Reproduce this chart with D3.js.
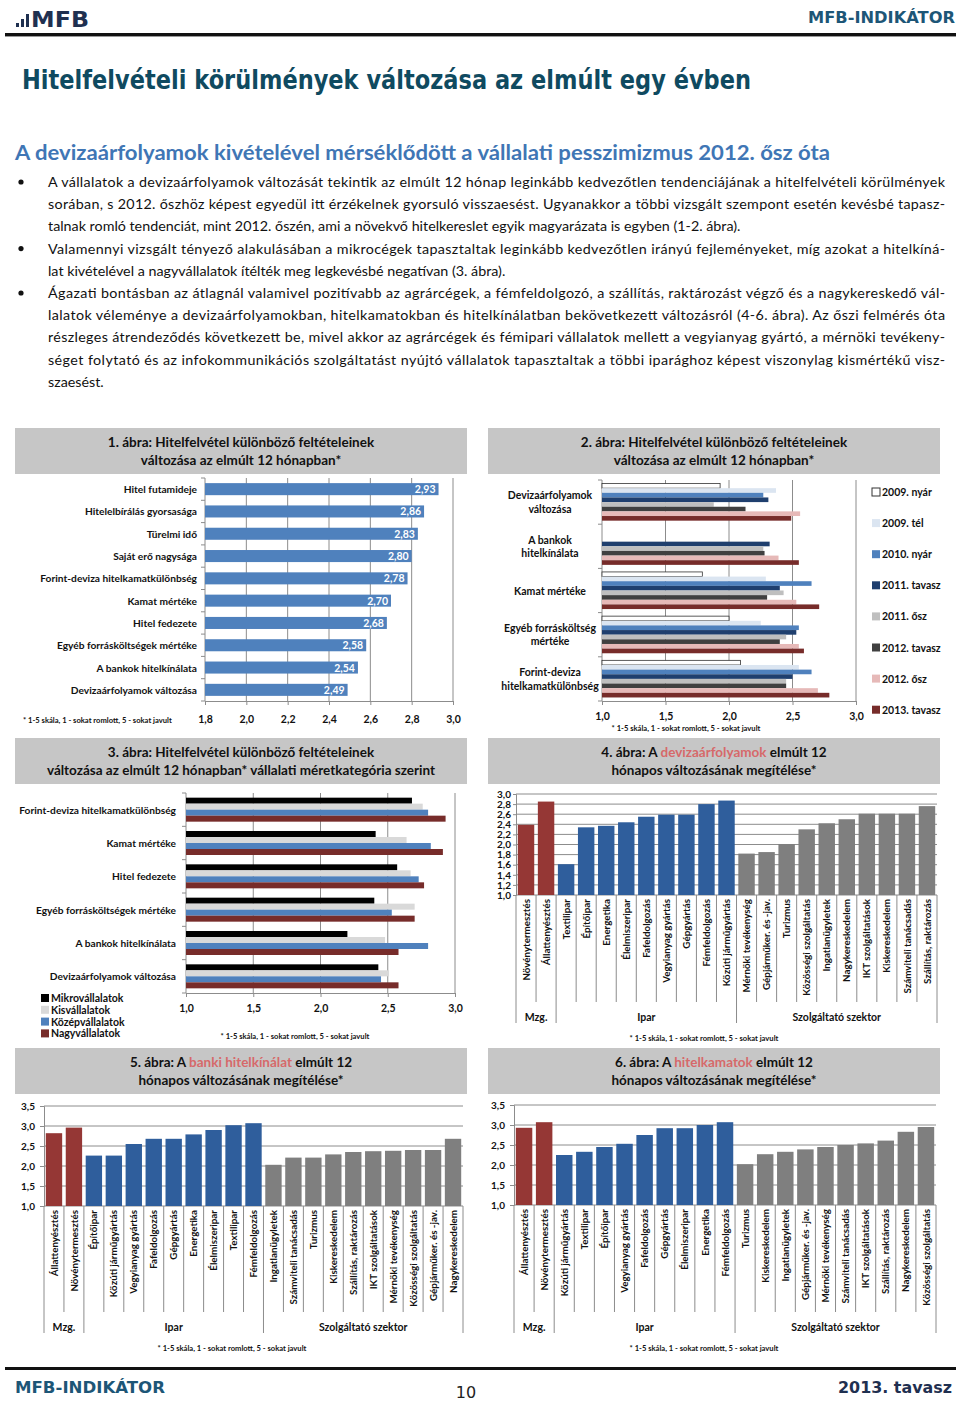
<!DOCTYPE html>
<html>
<head>
<meta charset="utf-8">
<script src="https://cdn.jsdelivr.net/npm/d3@7"></script>
<style>
body { margin: 0; background: #fff; }
svg text { font-family: Lato, "Open Sans", sans-serif; }
</style>
</head>
<body>
<div id="page"></div>
<script>
// Body text
const paraLines = [
  "A vállalatok a devizaárfolyamok változását tekintik az elmúlt 12 hónap leginkább kedvezőtlen tendenciájának a hitelfelvételi körülmények",
  "sorában, s 2012. őszhöz képest egyedül itt érzékelnek gyorsuló visszaesést. Ugyanakkor a többi vizsgált szempont esetén kevésbé tapasz-",
  "talnak romló tendenciát, mint 2012. őszén, ami a növekvő hitelkereslet egyik magyarázata is egyben (1-2. ábra).",
  "Valamennyi vizsgált tényező alakulásában a mikrocégek tapasztaltak leginkább kedvezőtlen irányú fejleményeket, míg azokat a hitelkíná-",
  "lat kivételével a nagyvállalatok ítélték meg legkevésbé negatívan (3. ábra).",
  "Ágazati bontásban az átlagnál valamivel pozitívabb az agrárcégek, a fémfeldolgozó, a szállítás, raktározást végző és a nagykereskedő vál-",
  "lalatok véleménye a devizaárfolyamokban, hitelkamatokban és hitelkínálatban bekövetkezett változásról (4-6. ábra). Az őszi felmérés óta",
  "részleges átrendeződés következett be, mivel akkor az agrárcégek és fémipari vállalatok mellett a vegyianyag gyártó, a mérnöki tevékeny-",
  "séget folytató és az infokommunikációs szolgáltatást nyújtó vállalatok tapasztaltak a többi iparághoz képest viszonylag kismértékű visz-",
  "szaesést."
];
const bulletLines = [0, 3, 5];
const NOTE = "* 1-5 skála,  1 - sokat romlott, 5 - sokat javult";

// 1. ábra
const c1Cats = ["Hitel futamideje", "Hitelelbírálás gyorsasága", "Türelmi idő", "Saját erő nagysága",
  "Forint-deviza hitelkamatkülönbség", "Kamat mértéke", "Hitel fedezete", "Egyéb forrásköltségek mértéke",
  "A bankok hitelkínálata", "Devizaárfolyamok változása"];
const c1Vals = [2.93, 2.86, 2.83, 2.80, 2.78, 2.70, 2.68, 2.58, 2.54, 2.49];
const c1Ticks = [1.8, 2.0, 2.2, 2.4, 2.6, 2.8, 3.0];

// 2. ábra
const c2Cats = [["Devizaárfolyamok", "változása"], ["A bankok", "hitelkínálata"], ["Kamat mértéke"],
  ["Egyéb forrásköltség", "mértéke"], ["Forint-deviza", "hitelkamatkülönbség"]];
const c2Series = ["2009. nyár", "2009. tél", "2010. nyár", "2011. tavasz", "2011. ősz", "2012. tavasz", "2012. ősz", "2013. tavasz"];
const c2Vals = [
  [1.93, null, 1.79, 2.00, 2.09],
  [2.37, null, 2.29, 2.25, 2.55],
  [2.27, null, 2.65, 2.55, 2.65],
  [2.31, 2.32, 2.40, 2.53, 2.50],
  [1.88, 2.27, 2.43, 2.45, 2.45],
  [2.13, 2.28, 2.30, 2.40, 2.45],
  [2.56, 2.39, 2.53, 2.55, 2.70],
  [2.49, 2.55, 2.71, 2.59, 2.79]
];
const c2Ticks = [1.0, 1.5, 2.0, 2.5, 3.0];

// 3. ábra
const c3Cats = ["Forint-deviza hitelkamatkülönbség", "Kamat mértéke", "Hitel fedezete",
  "Egyéb forrásköltségek mértéke", "A bankok hitelkínálata", "Devizaárfolyamok változása"];
const c3Series = ["Mikrovállalatok", "Kisvállalatok", "Középvállalatok", "Nagyvállalatok"];
const c3Vals = [
  [2.68, 2.41, 2.57, 2.40, 2.20, 2.43],
  [2.76, 2.64, 2.67, 2.70, 2.48, 2.51],
  [2.80, 2.82, 2.73, 2.53, 2.80, 2.45],
  [2.93, 2.91, 2.77, 2.70, 2.58, 2.58]
];
const c3Ticks = [1.0, 1.5, 2.0, 2.5, 3.0];

// 4-6. ábra: sectors
const sectorNames = ["Mzg.", "Ipar", "Szolgáltató szektor"];
const sectorSizes = [2, 9, 10];

const c4Cats = ["Növénytermesztés", "Állattenyésztés", "Textilipar", "Építőipar", "Energetika", "Élelmiszeripar",
  "Fafeldolgozás", "Vegyianyag gyártás", "Gépgyártás", "Fémfeldolgozás", "Közúti járműgyártás",
  "Mérnöki tevékenység", "Gépjárműker. és -jav.", "Turizmus", "Közösségi szolgáltatás", "Ingatlanügyletek",
  "Nagykereskedelem", "IKT szolgáltatások", "Kiskereskedelem", "Számviteli tanácsadás", "Szállítás, raktározás"];
const c4Vals = [2.39, 2.85, 1.61, 2.34, 2.37, 2.44, 2.55, 2.59, 2.59, 2.80, 2.87,
  1.82, 1.85, 2.01, 2.30, 2.42, 2.50, 2.61, 2.61, 2.61, 2.76];
const c4Ticks = [1.0, 1.2, 1.4, 1.6, 1.8, 2.0, 2.2, 2.4, 2.6, 2.8, 3.0];

const c5Cats = ["Állattenyésztés", "Növénytermesztés", "Építőipar", "Közúti járműgyártás", "Vegyianyag gyártás",
  "Fafeldolgozás", "Gépgyártás", "Energetika", "Élelmiszeripar", "Textilipar", "Fémfeldolgozás",
  "Ingatlanügyletek", "Számviteli tanácsadás", "Turizmus", "Kiskereskedelem", "Szállítás, raktározás",
  "IKT szolgáltatások", "Mérnöki tevékenység", "Közösségi szolgáltatás", "Gépjárműker. és -jav.", "Nagykereskedelem"];
const c5Vals = [2.82, 2.96, 2.26, 2.26, 2.55, 2.68, 2.68, 2.79, 2.90, 3.02, 3.07,
  2.03, 2.21, 2.21, 2.29, 2.35, 2.37, 2.38, 2.40, 2.40, 2.68];

const c6Cats = ["Állattenyésztés", "Növénytermesztés", "Közúti járműgyártás", "Textilipar", "Építőipar",
  "Vegyianyag gyártás", "Fafeldolgozás", "Gépgyártás", "Élelmiszeripar", "Energetika", "Fémfeldolgozás",
  "Turizmus", "Kiskereskedelem", "Ingatlanügyletek", "Gépjárműker. és -jav.", "Mérnöki tevékenység",
  "Számviteli tanácsadás", "IKT szolgáltatások", "Szállítás, raktározás", "Nagykereskedelem", "Közösségi szolgáltatás"];
const c6Vals = [2.93, 3.07, 2.25, 2.33, 2.45, 2.53, 2.75, 2.92, 2.92, 3.00, 3.07,
  2.02, 2.27, 2.33, 2.39, 2.45, 2.50, 2.54, 2.61, 2.83, 2.95];
const c56Ticks = [1.0, 1.5, 2.0, 2.5, 3.0, 3.5];

// Colours
const c2Colors = ["#ffffff", "#dbe5f1", "#4f81bd", "#1f3f6e", "#bfbfbf", "#404040", "#e6b9b8", "#772c2a"];
const c3Colors = ["#000000", "#d9d9d9", "#4f81bd", "#772c2a"];
const sectorColors = ["#953735", "#2f5e9c", "#7f7f7f"];
const GRID = "#8c8c8c";

const fmt = d => d3.format(".1f")(d).replace(".", ",");
const fmt2 = d => d3.format(".2f")(d).replace(".", ",");

const svg = d3.select("#page").append("svg")
  .attr("width", 960).attr("height", 1401);
svg.append("rect").attr("width", 960).attr("height", 1401).attr("fill", "#fff");


// Header
const navy = "#1f3050", teal = "#1d5677";
[[16, 23, 4], [21, 19, 8], [26, 14, 13]].forEach(b =>
  svg.append("rect").attr("x", b[0]).attr("y", b[1]).attr("width", 3).attr("height", b[2]).attr("fill", navy));
svg.append("text").attr("x", 31).attr("y", 27).text("MFB")
  .style("font-family", "'DejaVu Sans Condensed','DejaVu Sans'").attr("font-weight", "bold")
  .attr("font-size", 22).attr("fill", navy).attr("textLength", 58).attr("lengthAdjust", "spacingAndGlyphs");
svg.append("text").attr("x", 955).attr("y", 23).attr("text-anchor", "end").text("MFB-INDIKÁTOR")
  .style("font-family", "'DejaVu Sans'").attr("font-weight", "bold").attr("font-size", 15)
  .attr("fill", teal).attr("textLength", 147).attr("lengthAdjust", "spacingAndGlyphs");
svg.append("rect").attr("x", 5).attr("y", 33).attr("width", 951).attr("height", 3).attr("fill", "#111");
svg.append("rect").attr("x", 5).attr("y", 36).attr("width", 951).attr("height", 1).attr("fill", "#999");

svg.append("text").attr("x", 22).attr("y", 89).text("Hitelfelvételi körülmények változása az elmúlt egy évben")
  .style("font-family", "'DejaVu Sans'").attr("font-weight", "bold").attr("font-size", 26)
  .attr("fill", "#0f4a60").attr("textLength", 729).attr("lengthAdjust", "spacingAndGlyphs");

svg.append("text").attr("x", 15).attr("y", 160)
  .text("A devizaárfolyamok kivételével mérséklődött a vállalati pesszimizmus 2012. ősz óta")
  .attr("font-size", 21).attr("font-weight", "bold").attr("fill", "#3f76b5")
  .attr("textLength", 815).attr("lengthAdjust", "spacingAndGlyphs");

// Paragraphs (justified lines stretched to the right margin)
paraLines.forEach((s, i) => {
  const t = svg.append("text").attr("x", 48).attr("y", 187 + i * 22.2)
    .attr("font-size", 14.3).attr("fill", "#111").text(s);
  const full = i < paraLines.length - 1 && !bulletLines.includes(i + 1);
  if (full) t.attr("textLength", 897).attr("lengthAdjust", "spacing");
  if (bulletLines.includes(i)) {
    svg.append("circle").attr("cx", 21).attr("cy", 182 + i * 22.2).attr("r", 2.6).attr("fill", "#111");
  }
});


// Footer
svg.append("rect").attr("x", 5).attr("y", 1367).attr("width", 951).attr("height", 3).attr("fill", "#111");
svg.append("text").attr("x", 15).attr("y", 1393).text("MFB-INDIKÁTOR")
  .style("font-family", "'DejaVu Sans'").attr("font-weight", "bold").attr("font-size", 15)
  .attr("fill", teal).attr("textLength", 150).attr("lengthAdjust", "spacingAndGlyphs");
svg.append("text").attr("x", 466).attr("y", 1398).attr("text-anchor", "middle").text("10")
  .style("font-family", "'DejaVu Sans'").attr("font-size", 16).attr("fill", "#222");
svg.append("text").attr("x", 952).attr("y", 1393).attr("text-anchor", "end").text("2013. tavasz")
  .style("font-family", "'DejaVu Sans'").attr("font-weight", "bold").attr("font-size", 15)
  .attr("fill", navy).attr("textLength", 114).attr("lengthAdjust", "spacingAndGlyphs");


// Helpers
function titleBox(x, y, w, h, lines) {
  svg.append("rect").attr("x", x).attr("y", y).attr("width", w).attr("height", h).attr("fill", "#c6c6c6");
  lines.forEach((segs, i) => {
    const t = svg.append("text").attr("x", x + w / 2).attr("y", y + 19 + i * 18)
      .attr("text-anchor", "middle").attr("font-size", 13.5).attr("font-weight", "bold").attr("fill", "#111");
    segs.forEach(s => t.append("tspan").attr("fill", s.hl ? "#d6696a" : null).text(s.t));
  });
}

function note(x, y, anchor) {
  svg.append("text").attr("x", x).attr("y", y).attr("text-anchor", anchor || "middle")
    .attr("font-size", 7.6).attr("font-weight", "bold").attr("fill", "#111").text(NOTE);
}

function styleAxis(g, size) {
  g.attr("font-family", null).attr("font-size", null);
  g.selectAll("text").attr("font-size", size).attr("font-weight", "bold").attr("fill", "#111");
  g.selectAll("line").attr("stroke", GRID);
  g.select(".domain").attr("stroke", GRID);
}

// Horizontal bar frame: gridlines, category axis ticks, value axis
function hFrame(x, ticks, top, bot, nCats, step, labelPad) {
  const left = x.range()[0];
  svg.append("g").selectAll("line").data(ticks.slice(1)).join("line")
    .attr("x1", d => x(d)).attr("x2", d => x(d)).attr("y1", top).attr("y2", bot)
    .attr("stroke", GRID);
  svg.append("line").attr("x1", left).attr("x2", left).attr("y1", top).attr("y2", bot).attr("stroke", GRID);
  svg.append("g").selectAll("line").data(d3.range(nCats + 1)).join("line")
    .attr("x1", left - 4).attr("x2", left).attr("y1", i => top + i * step).attr("y2", i => top + i * step)
    .attr("stroke", GRID);
  const ax = svg.append("g").attr("transform", `translate(0,${bot})`)
    .call(d3.axisBottom(x).tickValues(ticks).tickFormat(fmt).tickSize(4).tickPadding(labelPad));
  styleAxis(ax, 10.5);
}


// 1. ábra
titleBox(15, 428, 452, 46, [[{t: "1. ábra: Hitelfelvétel különböző feltételeinek"}], [{t: "változása az elmúlt 12 hónapban*"}]]);
{
  const x = d3.scaleLinear().domain([1.8, 3.0]).range([205, 453]);
  const y = d3.scaleBand().domain(c1Cats).range([478, 701]).paddingInner(0.46).paddingOuter(0.23);
  hFrame(x, c1Ticks, 478, 701, c1Cats.length, (701 - 478) / c1Cats.length, 11);
  svg.append("g").selectAll("rect").data(c1Vals).join("rect")
    .attr("x", x(1.8)).attr("y", (d, i) => y(c1Cats[i])).attr("width", d => x(d) - x(1.8))
    .attr("height", y.bandwidth()).attr("fill", "#4f81bd");
  svg.append("g").selectAll("text").data(c1Vals).join("text")
    .attr("x", d => x(d) - 3).attr("y", (d, i) => y(c1Cats[i]) + y.bandwidth() / 2 + 4)
    .attr("text-anchor", "end").attr("font-size", 10.5).attr("font-weight", "bold").attr("fill", "#fff")
    .text(fmt2);
  svg.append("g").selectAll("text").data(c1Cats).join("text")
    .attr("x", 197).attr("y", d => y(d) + y.bandwidth() / 2 + 4)
    .attr("text-anchor", "end").attr("font-size", 10.2).attr("font-weight", "bold").attr("fill", "#111")
    .text(d => d);
  note(23, 723, "start");
}


// 2. ábra
titleBox(488, 428, 452, 46, [[{t: "2. ábra: Hitelfelvétel különböző feltételeinek"}], [{t: "változása az elmúlt 12 hónapban*"}]]);
{
  const x = d3.scaleLinear().domain([1.0, 3.0]).range([602, 856]);
  const y = d3.scaleBand().domain(d3.range(c2Cats.length)).range([480, 701]).paddingInner(0.16).paddingOuter(0.08);
  const sub = d3.scaleBand().domain(d3.range(c2Series.length)).range([0, y.bandwidth()]);
  hFrame(x, c2Ticks, 480, 701, c2Cats.length, y.step(), 8);
  c2Vals.forEach((row, s) => {
    svg.append("g").selectAll("rect").data(row.map((v, c) => ({v, c})).filter(d => d.v != null)).join("rect")
      .attr("x", x(1)).attr("y", d => y(d.c) + sub(s)).attr("width", d => x(d.v) - x(1))
      .attr("height", sub.bandwidth()).attr("fill", c2Colors[s])
      .attr("stroke", s === 0 ? "#333" : null).attr("stroke-width", 0.8);
  });
  c2Cats.forEach((lines, c) => {
    const cy = y(c) + y.bandwidth() / 2;
    lines.forEach((l, k) => {
      svg.append("text").attr("x", 550).attr("y", cy + 4 + (k - (lines.length - 1) / 2) * 13.5)
        .attr("text-anchor", "middle").attr("font-size", 10.5).attr("font-weight", "bold").attr("fill", "#111")
        .text(l);
    });
  });
  const leg = svg.append("g").selectAll("g").data(c2Series).join("g")
    .attr("transform", (d, i) => `translate(872,${492 + i * 31.1})`);
  leg.append("rect").attr("x", 0).attr("y", -4).attr("width", 8).attr("height", 8)
    .attr("fill", (d, i) => c2Colors[i]).attr("stroke", (d, i) => i === 0 ? "#333" : null);
  leg.append("text").attr("x", 10).attr("y", 4).attr("font-size", 10.5).attr("font-weight", "bold")
    .attr("fill", "#111").text(d => d);
  note(686, 731);
}


// 3. ábra
titleBox(15, 738, 452, 46, [[{t: "3. ábra: Hitelfelvétel különböző feltételeinek"}],
  [{t: "változása az elmúlt 12 hónapban* vállalati méretkategória szerint"}]]);
{
  const x = d3.scaleLinear().domain([1.0, 3.0]).range([186, 455]);
  const y = d3.scaleBand().domain(d3.range(c3Cats.length)).range([793, 993]).paddingInner(0.28).paddingOuter(0.14);
  const sub = d3.scaleBand().domain(d3.range(c3Series.length)).range([0, y.bandwidth()]);
  hFrame(x, c3Ticks, 793, 993, c3Cats.length, y.step(), 8);
  c3Vals.forEach((row, s) => {
    svg.append("g").selectAll("rect").data(row).join("rect")
      .attr("x", x(1)).attr("y", (d, c) => y(c) + sub(s)).attr("width", d => x(d) - x(1))
      .attr("height", sub.bandwidth()).attr("fill", c3Colors[s]);
  });
  svg.append("g").selectAll("text").data(c3Cats).join("text")
    .attr("x", 176).attr("y", (d, i) => y(i) + y.bandwidth() / 2 + 4)
    .attr("text-anchor", "end").attr("font-size", 10.2).attr("font-weight", "bold").attr("fill", "#111")
    .text(d => d);
  const leg = svg.append("g").selectAll("g").data(c3Series).join("g")
    .attr("transform", (d, i) => `translate(41,${998 + i * 11.8})`);
  leg.append("rect").attr("y", -4).attr("width", 8).attr("height", 8).attr("fill", (d, i) => c3Colors[i]);
  leg.append("text").attr("x", 10).attr("y", 4).attr("font-size", 10.5).attr("font-weight", "bold")
    .attr("fill", "#111").text(d => d);
  note(295, 1039);
}


// Vertical sector bar charts
function vbarChart(o) {
  const y = d3.scaleLinear().domain([1, o.ticks[o.ticks.length - 1]]).range([o.yBot, o.yTop]);
  const x = d3.scaleBand().domain(d3.range(o.cats.length)).range([o.x0, o.x1])
    .paddingInner(0.18).paddingOuter(0.09);
  const bounds = [0, ...d3.cumsum(sectorSizes)];
  const sectorOf = i => d3.bisectRight(bounds, i) - 1;

  // gridlines + y axis
  svg.append("g").selectAll("line").data(o.ticks).join("line")
    .attr("x1", o.x0).attr("x2", o.x1).attr("y1", d => y(d)).attr("y2", d => y(d)).attr("stroke", GRID);
  const ax = svg.append("g").attr("transform", `translate(${o.x0},0)`)
    .call(d3.axisLeft(y).tickValues(o.ticks).tickFormat(fmt).tickSize(o.tickOut).tickPadding(o.pad));
  styleAxis(ax, 10);

  svg.append("g").selectAll("rect").data(o.vals).join("rect")
    .attr("x", (d, i) => x(i)).attr("y", d => y(d)).attr("width", x.bandwidth())
    .attr("height", d => y(1) - y(d)).attr("fill", (d, i) => sectorColors[sectorOf(i)]);

  // category separators below the axis
  svg.append("g").selectAll("line").data(d3.range(o.cats.length + 1)).join("line")
    .attr("x1", i => o.x0 + i * x.step()).attr("x2", i => o.x0 + i * x.step())
    .attr("y1", o.yBot).attr("y2", i => bounds.includes(i) ? o.longEnd : o.shortEnd)
    .attr("stroke", GRID);

  svg.append("g").selectAll("text").data(o.cats).join("text")
    .attr("transform", (d, i) => `translate(${x(i) + x.bandwidth() / 2 + 3.6},${o.yBot + 4}) rotate(-90)`)
    .attr("text-anchor", "end").attr("font-size", 9.8).attr("font-weight", "bold").attr("fill", "#111")
    .text(d => d);

  svg.append("g").selectAll("text").data(sectorNames).join("text")
    .attr("x", (d, k) => o.x0 + (bounds[k] + bounds[k + 1]) / 2 * x.step())
    .attr("y", o.groupY).attr("text-anchor", "middle")
    .attr("font-size", 10.5).attr("font-weight", "bold").attr("fill", "#111").text(d => d);
  note(o.noteX, o.noteY);
}

titleBox(488, 738, 452, 46, [[{t: "4. ábra: A "}, {t: "devizaárfolyamok", hl: true}, {t: "  elmúlt 12"}],
  [{t: "hónapos változásának megítélése*"}]]);
vbarChart({cats: c4Cats, vals: c4Vals, ticks: c4Ticks, x0: 516, x1: 937, yTop: 794, yBot: 895,
  tickOut: 3, pad: 2, shortEnd: 1002, longEnd: 1023, groupY: 1021, noteX: 704, noteY: 1041});

titleBox(15, 1048, 452, 46, [[{t: "5. ábra: A "}, {t: "banki hitelkínálat", hl: true}, {t: " elmúlt 12"}],
  [{t: "hónapos változásának megítélése*"}]]);
vbarChart({cats: c5Cats, vals: c5Vals, ticks: c56Ticks, x0: 44, x1: 463, yTop: 1106, yBot: 1206,
  tickOut: 4, pad: 5, shortEnd: 1312, longEnd: 1333, groupY: 1331, noteX: 232, noteY: 1351});

titleBox(488, 1048, 452, 46, [[{t: "6. ábra: A "}, {t: "hitelkamatok", hl: true}, {t: "  elmúlt 12"}],
  [{t: "hónapos változásának megítélése*"}]]);
vbarChart({cats: c6Cats, vals: c6Vals, ticks: c56Ticks, x0: 514, x1: 936, yTop: 1105, yBot: 1205,
  tickOut: 4, pad: 5, shortEnd: 1312, longEnd: 1333, groupY: 1331, noteX: 704, noteY: 1351});
</script>
</body>
</html>
